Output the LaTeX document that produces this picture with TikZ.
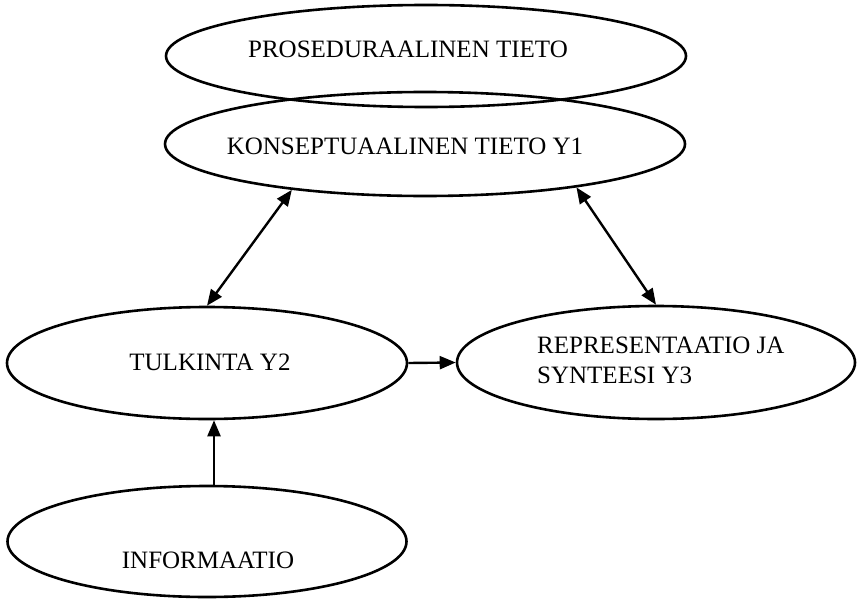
\documentclass[tikz,border=0pt]{standalone}
\usepackage{fontspec}
\setmainfont{Liberation Serif}
\usetikzlibrary{shapes.geometric,arrows.meta}
\tikzset{
  oval/.style={draw=black, line width=2.6pt, ellipse, inner sep=0pt},
  lbl/.style={inner sep=0pt, font=\fontsize{25}{30}\selectfont},
  conn/.style={line width=2.4pt, -{Triangle[length=16pt,width=13pt]}},
  biconn/.style={line width=2.4pt, {Triangle[length=16pt,width=13pt]}-{Triangle[length=16pt,width=13pt]}}
}
\begin{document}
\begin{tikzpicture}[x=1pt, y=-1pt]
\useasboundingbox (0,0) rectangle (858,599);
% ellipses
\node[oval, minimum width=520pt, minimum height=102pt] (e1) at (426,56) {};
\node[oval, minimum width=520pt, minimum height=104pt] (e2) at (425,144) {};
\node[oval, minimum width=400pt, minimum height=112pt] (t2) at (207,363) {};
\node[oval, minimum width=398pt, minimum height=113pt] (r3) at (656,362.5) {};
\node[oval, minimum width=399pt, minimum height=111pt] (inf) at (207,541.5) {};
% texts
\node[lbl] (x1) at (408,49) {PROSEDURAALINEN TIETO};
\node[lbl] (x2) at (405,146) {KONSEPTUAALINEN TIETO Y1};
\node[lbl] (x3) at (210,362) {TULKINTA Y2};
\node[lbl, anchor=west, align=left] (x4) at (537,360) {REPRESENTAATIO JA\\SYNTEESI Y3};
\node[lbl] (x5) at (208,560) {INFORMAATIO};
% connectors
\draw[biconn] (e2.199) -- (t2.north);
\draw[biconn] (e2.344) -- (r3.north);
\draw[conn] (t2.east) -- (r3.west);
\draw[conn] ([xshift=7pt]inf.north) -- ([xshift=7pt]t2.south);
\end{tikzpicture}
\end{document}
